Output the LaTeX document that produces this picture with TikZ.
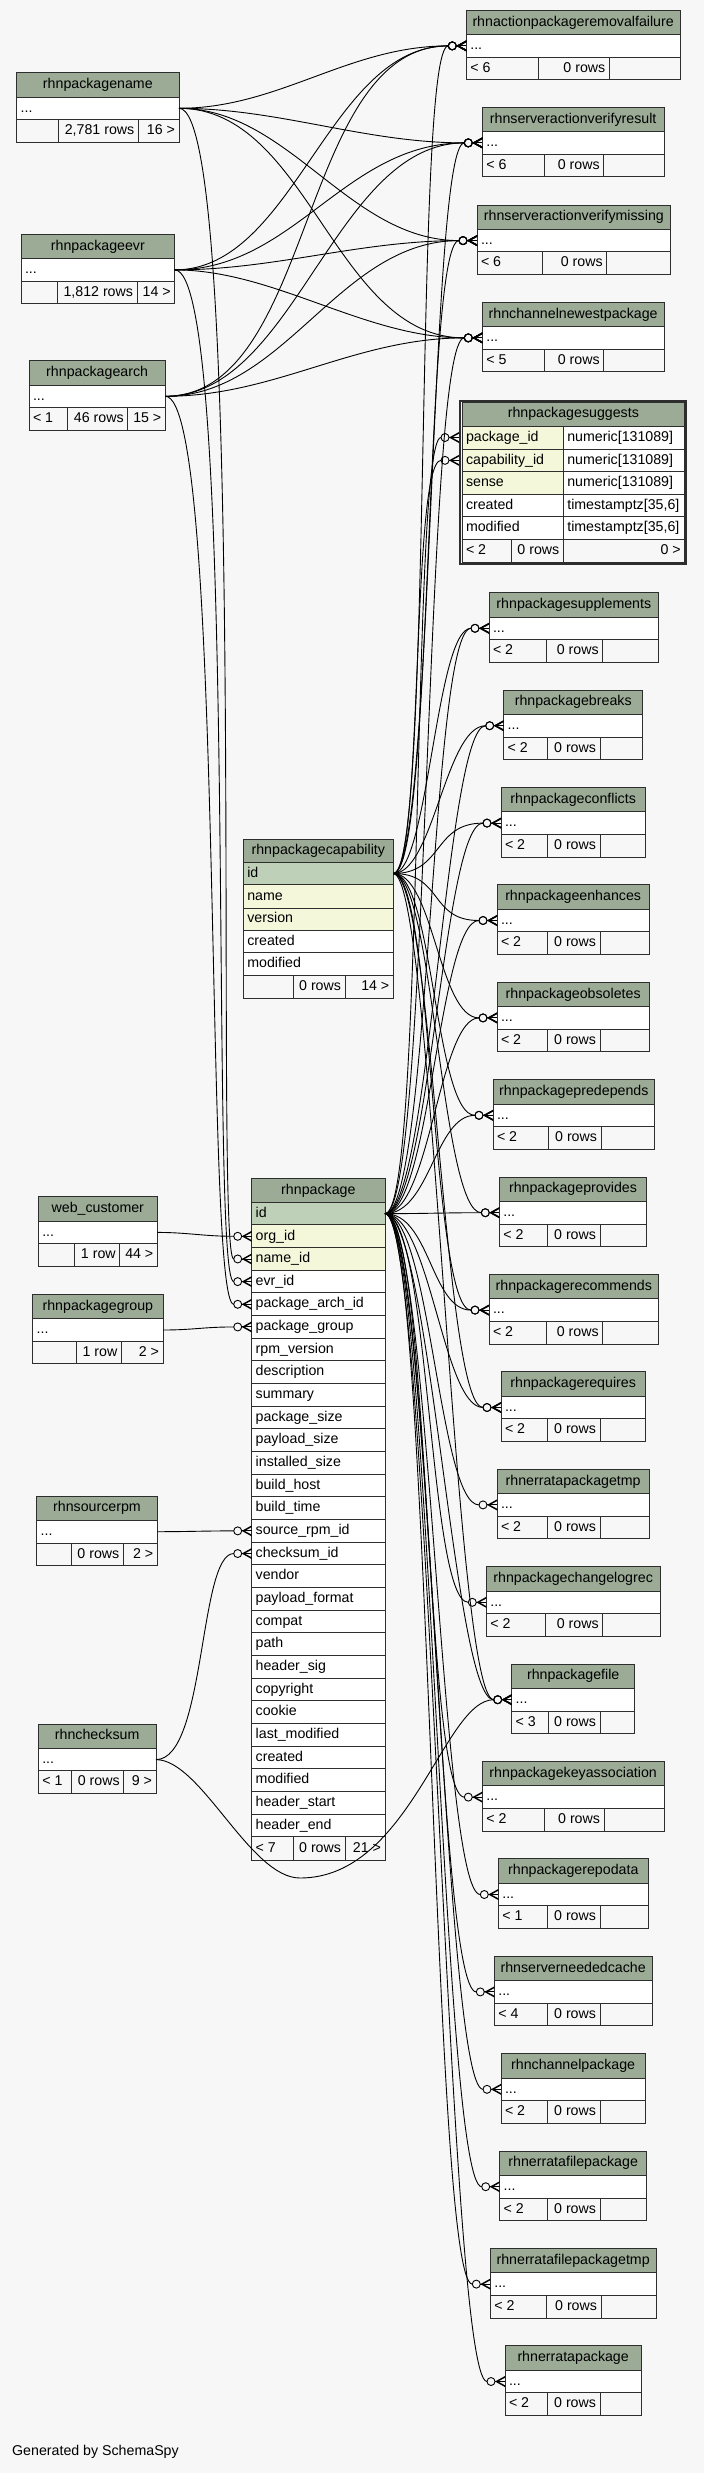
\documentclass[tikz,border=0pt]{standalone}
\usepackage{fontspec}
\setmainfont{Liberation Sans}
\usetikzlibrary{calc}
\definecolor{bgc}{HTML}{F7F7F7}
\definecolor{hdrc}{HTML}{9BAB96}
\definecolor{keyc}{HTML}{BED1B8}
\definecolor{idxc}{HTML}{F4F7DA}
\definecolor{footc}{HTML}{F7F7F7}
\definecolor{linec}{HTML}{2E2E2E}
\newcommand\cellfont{\fontsize{14.2pt}{17pt}\selectfont}
\tikzset{
  cellb/.style={draw=linec, line width=1pt, rectangle, inner xsep=4pt, inner ysep=0pt,
    outer sep=0pt, anchor=north west, text height=10.4pt, text depth=3pt, font=\cellfont},
  fk/.style={draw=black, line width=0.9pt},
  crow/.pic={
    \fill[black] (-10,0) -- (0,-5.5) -- (0,-3.8) -- (-7,0) -- (0,3.8) -- (0,5.5) -- cycle;
    \draw[fk] (-10,0) -- (0,0);
    \draw[fk] (-14,0) circle[radius=4];
  },
}
% #1 name, #2 xl, #3 yt, #4 xr, #5 yb, #6 fill, #7 align, #8 text
\newcommand\tcell[8]{%
  \pgfmathsetmacro\mycw{(#4)-(#2)}%
  \pgfmathsetmacro\mych{(#5)-(#3)}%
  \pgfmathsetmacro\mytw{(#4)-(#2)-8}%
  \node[cellb, fill=#6, minimum width=\mycw pt, minimum height=\mych pt, text width=\mytw pt, align=#7] (#1) at (#2,#3) {#8};%
}
\newcommand\fthird{}
% #1 id, #2 xl, #3 xr, #4 top, #5 d1, #6 d2, #7 title, #8 foot1, #9 foot2
\newcommand\stab[9]{%
  \tcell{#1h}{#2}{#4}{#3}{#4+24.3}{hdrc}{flush center}{#7}%
  \tcell{#1r}{#2}{#4+24.3}{#3}{#4+46.9}{white}{flush left}{...}%
  \tcell{#1a}{#2}{#4+46.9}{#5}{#4+69.5}{footc}{flush left}{#8}%
  \tcell{#1b}{#5}{#4+46.9}{#6}{#4+69.5}{footc}{flush right}{#9}%
  \tcell{#1c}{#6}{#4+46.9}{#3}{#4+69.5}{footc}{flush right}{\fthird}%
}
\newcommand\fkedge[4]{%
  \draw[fk] (#1) .. controls +(#3,0) and +(-#4,0) .. ([xshift=-18pt]#2);%
  \pic at (#2) {crow};%
}
\begin{document}
\begin{tikzpicture}[x=1pt,y=-1pt]
\fill[bgc] (0,0) rectangle (704,2473);

% ---------- left tables ----------
\renewcommand\fthird{16 >}\stab{nam}{16.7}{179}{72.7}{58.3}{138.3}{rhnpackagename}{}{2,781 rows}
\renewcommand\fthird{14 >}\stab{evr}{21}{174.7}{234.3}{57}{137}{rhnpackageevr}{}{1,812 rows}
\renewcommand\fthird{15 >}\stab{arc}{29}{165.3}{360.7}{67.7}{127.7}{rhnpackagearch}{< 1}{46 rows}
\renewcommand\fthird{44 >}\stab{web}{38.3}{157.3}{1196.8}{74.7}{119.7}{web\_customer}{}{1 row}
\renewcommand\fthird{2 >}\stab{grp}{32.7}{163}{1294.4}{76.3}{121.3}{rhnpackagegroup}{}{1 row}
\renewcommand\fthird{2 >}\stab{src}{36.7}{157.3}{1496.1}{71.7}{123.3}{rhnsourcerpm}{}{0 rows}
\renewcommand\fthird{9 >}\stab{chk}{38.3}{156}{1724}{71.7}{123.7}{rhnchecksum}{< 1}{0 rows}
\renewcommand\fthird{}

% ---------- top right tables ----------
\stab{rem}{466.3}{680}{10.3}{538.7}{609.3}{rhnactionpackageremovalfailure}{< 6}{0 rows}
\stab{vre}{482.3}{664}{107.3}{544}{603.7}{rhnserveractionverifyresult}{< 6}{0 rows}
\stab{vmi}{477}{670.7}{205}{542.7}{606.7}{rhnserveractionverifymissing}{< 6}{0 rows}
\stab{cnp}{482.3}{664}{302.3}{544}{603.7}{rhnchannelnewestpackage}{< 5}{0 rows}

% ---------- rhnpackagesuggests (focus) ----------
\draw[linec, line width=2pt] (460,401) rectangle (685.7,563.8);
\tcell{sgh}{462}{402}{684.7}{426}{hdrc}{flush center}{rhnpackagesuggests}
\tcell{sg1l}{462}{426}{563.3}{449}{idxc}{flush left}{package\_id}
\tcell{sg1r}{563.3}{426}{684.7}{449}{white}{flush left}{numeric[131089]}
\tcell{sg2l}{462}{449}{563.3}{471.7}{idxc}{flush left}{capability\_id}
\tcell{sg2r}{563.3}{449}{684.7}{471.7}{white}{flush left}{numeric[131089]}
\tcell{sg3l}{462}{471.7}{563.3}{494.3}{idxc}{flush left}{sense}
\tcell{sg3r}{563.3}{471.7}{684.7}{494.3}{white}{flush left}{numeric[131089]}
\tcell{sg4l}{462}{494.3}{563.3}{516.7}{white}{flush left}{created}
\tcell{sg4r}{563.3}{494.3}{684.7}{516.7}{white}{flush left}{timestamptz[35,6]}
\tcell{sg5l}{462}{516.7}{563.3}{539.3}{white}{flush left}{modified}
\tcell{sg5r}{563.3}{516.7}{684.7}{539.3}{white}{flush left}{timestamptz[35,6]}
\tcell{sga}{462}{539.3}{511.7}{562.7}{footc}{flush left}{< 2}
\tcell{sgb}{511.7}{539.3}{563.3}{562.7}{footc}{flush right}{0 rows}
\tcell{sgc0}{563.3}{539.3}{684.7}{562.7}{footc}{flush right}{0 >}
\coordinate (sgp) at ([xshift=-3pt]sg1l.west);
\coordinate (sgc) at ([xshift=-3pt]sg2l.west);

% ---------- right column tables ----------
\stab{sup}{489}{658.7}{592.7}{546.7}{602.7}{rhnpackagesupplements}{< 2}{0 rows}
\stab{brk}{503.7}{642.7}{690.1}{547.7}{600}{rhnpackagebreaks}{< 2}{0 rows}
\stab{cfl}{501}{645.3}{787.5}{547.7}{600}{rhnpackageconflicts}{< 2}{0 rows}
\stab{enh}{497}{649.3}{884.9}{547.7}{600}{rhnpackageenhances}{< 2}{0 rows}
\stab{obs}{497}{649.3}{982.3}{547.7}{600}{rhnpackageobsoletes}{< 2}{0 rows}
\stab{pre}{493}{654.7}{1079.7}{548}{601}{rhnpackagepredepends}{< 2}{0 rows}
\stab{prv}{499.3}{646.7}{1177.1}{547.7}{600}{rhnpackageprovides}{< 2}{0 rows}
\stab{rec}{489}{658.7}{1274.5}{546.7}{602.7}{rhnpackagerecommends}{< 2}{0 rows}
\stab{req}{501}{645.3}{1371.9}{547.7}{600}{rhnpackagerequires}{< 2}{0 rows}
\stab{ept}{497}{649.3}{1469.3}{547.7}{600}{rhnerratapackagetmp}{< 2}{0 rows}
\stab{chl}{486.3}{660}{1566.7}{545.3}{602.7}{rhnpackagechangelogrec}{< 2}{0 rows}
\stab{fil}{511.7}{634.7}{1664.1}{548.3}{600}{rhnpackagefile}{< 3}{0 rows}
\stab{key}{482.3}{664}{1761.5}{544}{604}{rhnpackagekeyassociation}{< 2}{0 rows}
\stab{rep}{498.3}{648.3}{1858.9}{547.7}{600}{rhnpackagerepodata}{< 1}{0 rows}
\stab{snc}{494.3}{652}{1956.3}{547.7}{600}{rhnserverneededcache}{< 4}{0 rows}
\stab{chp}{501}{645.3}{2053.7}{547.7}{600}{rhnchannelpackage}{< 2}{0 rows}
\stab{efp}{499.7}{646.7}{2151.1}{547.7}{600}{rhnerratafilepackage}{< 2}{0 rows}
\stab{eft}{490.3}{656}{2248.5}{546.7}{601}{rhnerratafilepackagetmp}{< 2}{0 rows}
\stab{erp}{505}{641.3}{2345.9}{547.7}{600}{rhnerratapackage}{< 2}{0 rows}

% ---------- rhnpackagecapability ----------
\tcell{caph}{243.3}{839}{393.3}{862.3}{hdrc}{flush center}{rhnpackagecapability}
\tcell{cap0}{243.3}{862.3}{393.3}{884.7}{keyc}{flush left}{id}
\tcell{cap1}{243.3}{884.7}{393.3}{908}{idxc}{flush left}{name}
\tcell{cap2}{243.3}{908}{393.3}{930.3}{idxc}{flush left}{version}
\tcell{cap3}{243.3}{930.3}{393.3}{952.7}{white}{flush left}{created}
\tcell{cap4}{243.3}{952.7}{393.3}{975.3}{white}{flush left}{modified}
\tcell{capa}{243.3}{975.3}{293}{998.3}{footc}{flush left}{}
\tcell{capb}{293}{975.3}{345}{998.3}{footc}{flush right}{0 rows}
\tcell{capc}{345}{975.3}{393.3}{998.3}{footc}{flush right}{14 >}

% ---------- rhnpackage ----------
\tcell{pkh}{251.7}{1178.3}{385}{1202.3}{hdrc}{flush center}{rhnpackage}
\foreach \fname [count=\i from 0] in {id,org\_id,name\_id,evr\_id,package\_arch\_id,package\_group,rpm\_version,description,summary,package\_size,payload\_size,installed\_size,build\_host,build\_time,source\_rpm\_id,checksum\_id,vendor,payload\_format,compat,path,header\_sig,copyright,cookie,last\_modified,created,modified,header\_start,header\_end}{
  \ifcase\i \def\fc{keyc}\or\def\fc{idxc}\or\def\fc{idxc}\else\def\fc{white}\fi
  \tcell{pk\i}{251.7}{1202.3+22.66*\i}{385}{1202.3+22.66*\i+22.66}{\fc}{flush left}{\fname}
}
\tcell{pka}{251.7}{1836.8}{293}{1860}{footc}{flush left}{< 7}
\tcell{pkb}{293}{1836.8}{345}{1860}{footc}{flush right}{0 rows}
\tcell{pkc}{345}{1836.8}{385}{1860}{footc}{flush right}{21 >}

\node[font=\cellfont, anchor=west, inner sep=0pt] (gen) at (12,2452) {Generated by SchemaSpy};

% ---------- connectors ----------
% rhnpackagename
\fkedge{namr.east}{remr.west}{100}{100}
\fkedge{namr.east}{vrer.west}{100}{100}
\fkedge{namr.east}{vmir.west}{110}{110}
\fkedge{namr.east}{cnpr.west}{130}{130}
\draw[fk] (namr.east) .. controls +(70,0) and +(-20,0) .. ([xshift=-18pt]pk2.west);
\pic at (pk2.west) {crow};
% rhnpackageevr
\fkedge{evrr.east}{remr.west}{120}{120}
\fkedge{evrr.east}{vrer.west}{120}{120}
\fkedge{evrr.east}{vmir.west}{100}{100}
\fkedge{evrr.east}{cnpr.west}{100}{100}
\draw[fk] (evrr.east) .. controls +(65,0) and +(-25,0) .. ([xshift=-18pt]pk3.west);
\pic at (pk3.west) {crow};
% rhnpackagearch
\fkedge{arcr.east}{remr.west}{150}{150}
\fkedge{arcr.east}{vrer.west}{130}{130}
\fkedge{arcr.east}{vmir.west}{120}{120}
\fkedge{arcr.east}{cnpr.west}{110}{110}
\draw[fk] (arcr.east) .. controls +(60,0) and +(-30,0) .. ([xshift=-18pt]pk4.west);
\pic at (pk4.west) {crow};
% left parents of rhnpackage
\fkedge{webr.east}{pk1.west}{30}{30}
\fkedge{grpr.east}{pk5.west}{30}{30}
\fkedge{srcr.east}{pk14.west}{30}{30}
\draw[fk] (chkr.east) .. controls +(50,0) and +(-35,0) .. ([xshift=-18pt]pk15.west);
\pic at (pk15.west) {crow};
\coordinate (ckbend) at (300,1878);
\draw[fk] (chkr.east) .. controls +(45,0) and +(-50,0) .. (ckbend)
  .. controls +(110,0) and +(-50,0) .. ([xshift=-18pt]filr.west);
\pic at (filr.west) {crow};
% rhnpackagecapability
\fkedge{cap0.east}{remr.west}{40}{35}
\fkedge{cap0.east}{vrer.west}{40}{35}
\fkedge{cap0.east}{vmir.west}{40}{35}
\fkedge{cap0.east}{sgc}{30}{30}
\fkedge{cap0.east}{supr.west}{35}{35}
\fkedge{cap0.east}{brkr.west}{40}{40}
\fkedge{cap0.east}{cflr.west}{50}{50}
\fkedge{cap0.east}{enhr.west}{50}{50}
\fkedge{cap0.east}{obsr.west}{40}{40}
\fkedge{cap0.east}{prer.west}{40}{40}
\fkedge{cap0.east}{prvr.west}{40}{40}
\fkedge{cap0.east}{recr.west}{40}{40}
\fkedge{cap0.east}{reqr.west}{40}{40}
\fkedge{cap0.east}{filr.west}{40}{40}
% rhnpackage.id
\fkedge{pk0.east}{cnpr.west}{45}{40}
\fkedge{pk0.east}{sgp}{40}{30}
\fkedge{pk0.east}{supr.west}{45}{40}
\fkedge{pk0.east}{brkr.west}{45}{40}
\fkedge{pk0.east}{cflr.west}{45}{40}
\fkedge{pk0.east}{enhr.west}{45}{40}
\fkedge{pk0.east}{obsr.west}{45}{40}
\fkedge{pk0.east}{prer.west}{45}{40}
\fkedge{pk0.east}{prvr.west}{45}{40}
\fkedge{pk0.east}{recr.west}{45}{40}
\fkedge{pk0.east}{reqr.west}{45}{40}
\fkedge{pk0.east}{eptr.west}{45}{40}
\fkedge{pk0.east}{chlr.west}{45}{40}
\fkedge{pk0.east}{filr.west}{45}{40}
\fkedge{pk0.east}{keyr.west}{45}{40}
\fkedge{pk0.east}{repr.west}{45}{40}
\fkedge{pk0.east}{sncr.west}{45}{40}
\fkedge{pk0.east}{chpr.west}{45}{40}
\fkedge{pk0.east}{efpr.west}{45}{40}
\fkedge{pk0.east}{eftr.west}{45}{40}
\fkedge{pk0.east}{erpr.west}{45}{40}
\end{tikzpicture}
\end{document}
